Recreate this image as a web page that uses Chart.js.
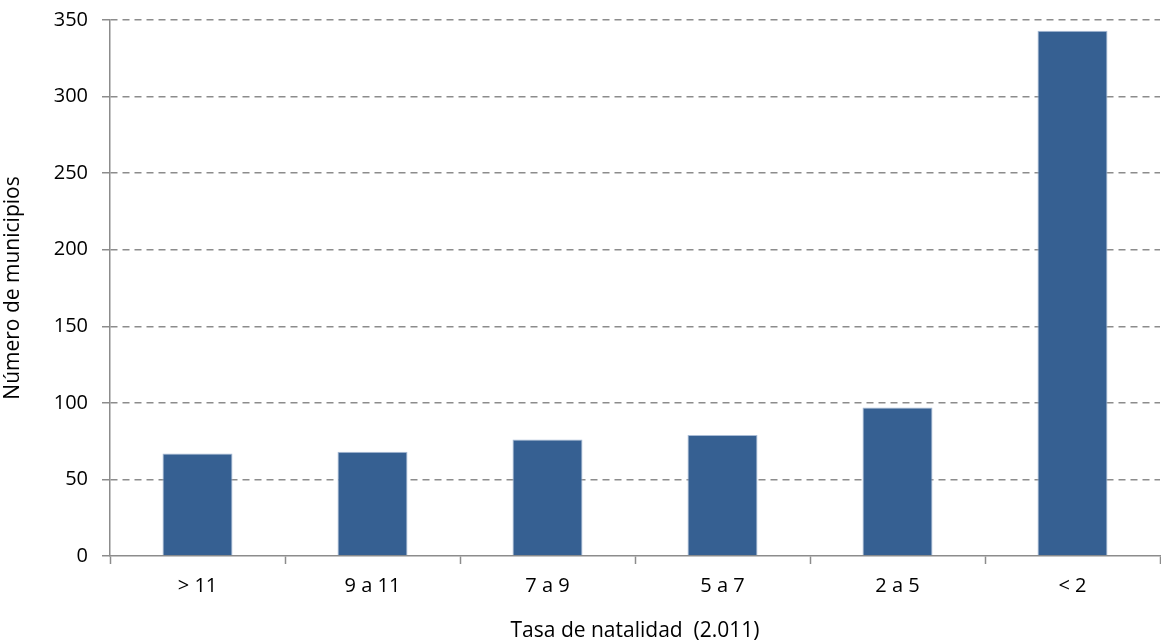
<!DOCTYPE html>
<html>
<head>
<meta charset="utf-8">
<script src="https://cdn.jsdelivr.net/npm/chart.js@4/dist/chart.umd.min.js"></script>
<style>
  html, body { margin: 0; padding: 0; background: #fff; }
  #wrap { width: 1161px; height: 644px; position: relative; }
</style>
</head>
<body>
<div id="wrap"><canvas id="chart"></canvas></div>
<script>
// Data
const categories = ["> 11", "9 a 11", "7 a 9", "5 a 7", "2 a 5", "< 2"];
const municipios = [67, 68, 76, 79, 97, 343];
const yTicks = [0, 50, 100, 150, 200, 250, 300, 350];

const gridGray = "#8c8c8c";
const fontFamily = "'Open Sans', 'Noto Sans', sans-serif";

const ctx = document.getElementById("chart").getContext("2d");
new Chart(ctx, {
  type: "bar",
  data: {
    labels: categories,
    datasets: [{
      data: municipios,
      backgroundColor: "#366092",
      borderColor: "#a9bcd6",
      borderWidth: 1,
      categoryPercentage: 0.4,
      barPercentage: 1.0,
    }],
  },
  options: {
    responsive: true,
    maintainAspectRatio: false,
    animation: false,
    layout: { padding: { top: 20, right: 1, left: 0, bottom: 0 } },
    plugins: {
      legend: { display: false },
      tooltip: { enabled: false },
    },
    scales: {
      x: {
        grid: {
          offset: true,
          drawOnChartArea: false,
          drawTicks: true,
          tickLength: 8,
          tickColor: gridGray,
          tickWidth: 1.5,
        },
        border: { color: gridGray, width: 1.5 },
        ticks: {
          color: "#000",
          font: { family: fontFamily, size: 20 },
          padding: 10,
        },
        title: {
          display: true,
          text: "Tasa de natalidad  (2.011)",
          color: "#000",
          font: { family: fontFamily, size: 21 },
          padding: { top: 15, bottom: 0 },
        },
        afterFit: (scale) => { scale.height = 88; },
      },
      y: {
        min: 0,
        max: 350,
        afterBuildTicks: (scale) => {
          scale.ticks = yTicks.map((v) => ({ value: v }));
        },
        grid: {
          color: (c) => (c.tick && c.tick.value === 0 ? "rgba(0,0,0,0)" : gridGray),
          lineWidth: 1.5,
          tickColor: gridGray,
          tickLength: 8,
          tickWidth: 1.5,
          tickBorderDash: [],
        },
        border: { color: gridGray, width: 1.5, dash: [7, 5] },
        ticks: {
          color: "#000",
          font: { family: fontFamily, size: 20 },
          padding: 14,
        },
        title: {
          display: true,
          text: "Número de municipios",
          color: "#000",
          font: { family: fontFamily, size: 21 },
          padding: { top: 0, bottom: 12 },
        },
        afterFit: (scale) => {
          scale.width = 110;
          scale.paddingTop = 0;
          scale.paddingBottom = 0;
        },
      },
    },
  },
});
</script>
</body>
</html>
